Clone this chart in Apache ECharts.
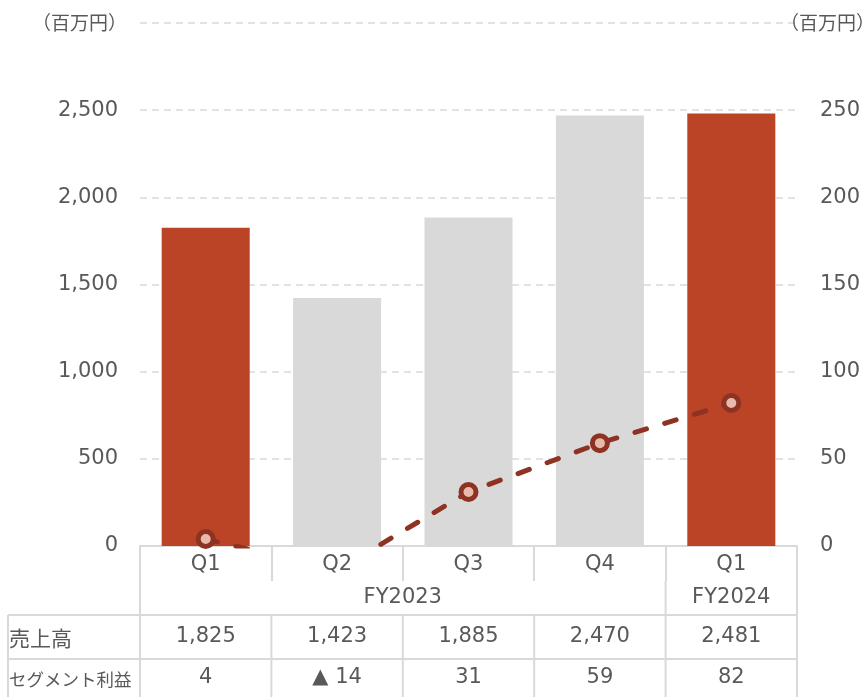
<!DOCTYPE html>
<html>
<head>
<meta charset="utf-8">
<script src="https://cdn.jsdelivr.net/npm/echarts@6/dist/echarts.min.js"></script>
<style>
html,body{margin:0;padding:0;background:#fff;}
#main{width:865px;height:697px;}
</style>
</head>
<body>
<div id="main"></div>
<script>
// ---- data ----
const quarters = ['Q1', 'Q2', 'Q3', 'Q4', 'Q1'];
const years = ['FY2023', 'FY2023', 'FY2023', 'FY2023', 'FY2024'];
const sales = [1825, 1423, 1885, 2470, 2481];          // 売上高 (left axis)
const profit = [4, -14, 31, 59, 82];                   // セグメント利益 (right axis)
const rowLabels = ['売上高', 'セグメント利益'];
const unitLabel = '（百万円）';
const leftAxis = { min: 0, max: 3000, interval: 500 };
const rightAxis = { min: 0, max: 300, interval: 50 };

// ---- styles ----
const RED = '#BB4426';
const GRAY = '#D9D9D9';
const LINE = '#8E3323';
const MARK = '#E8BAAB';
const TXT = '#595959';
const NUM_FONT = '"DejaVu Sans", Verdana, sans-serif';
const NUM_SIZE = 21;
const JP_FONT = '"Noto Sans CJK JP", sans-serif';
const BORDER = '#D9D9D9';

const axisData = quarters.map((q, i) => years[i] + ' ' + q);
const fmt = v => Number(v).toLocaleString('en-US');
const fmtProfit = v => v < 0 ? '▲ ' + fmt(Math.abs(v)) : fmt(v);

const chart = echarts.init(document.getElementById('main'), null, { renderer: 'canvas' });

const GRID = { left: 140, right: 68, top: 23, bottom: 151 };

chart.setOption({
  animation: false,
  grid: GRID,
  xAxis: {
    type: 'category',
    data: axisData,
    axisLine: { lineStyle: { color: BORDER, width: 2 } },
    axisTick: { show: true, length: 35, lineStyle: { color: BORDER, width: 2 } },
    axisLabel: {
      formatter: v => v.split(' ')[1],
      color: TXT, fontSize: NUM_SIZE, fontFamily: NUM_FONT, margin: 8
    },
    splitLine: { show: false }
  },
  yAxis: [
    {
      type: 'value', min: leftAxis.min, max: leftAxis.max, interval: leftAxis.interval,
      axisLine: { show: false }, axisTick: { show: false },
      axisLabel: {
        formatter: v => v >= leftAxis.max ? '' : fmt(v),
        color: TXT, fontSize: NUM_SIZE, fontFamily: NUM_FONT, margin: 22
      },
      splitLine: { lineStyle: { color: GRAY, type: [7, 5], width: 1.5 } }
    },
    {
      type: 'value', min: rightAxis.min, max: rightAxis.max, interval: rightAxis.interval,
      axisLine: { show: false }, axisTick: { show: false },
      axisLabel: {
        formatter: v => v >= rightAxis.max ? '' : fmt(v),
        color: TXT, fontSize: NUM_SIZE, fontFamily: NUM_FONT, margin: 23
      },
      splitLine: { show: false }
    }
  ],
  series: [
    {
      type: 'bar',
      data: sales,
      barWidth: '67%',
      itemStyle: { color: p => quarters[p.dataIndex] === 'Q1' ? RED : GRAY },
      z: 2
    },
    {
      type: 'line',
      yAxisIndex: 1,
      data: profit,
      clip: true,
      symbol: 'circle',
      symbolSize: 15,
      lineStyle: { color: LINE, width: 5, type: [12, 19], cap: 'round' },
      itemStyle: { color: MARK, borderColor: LINE, borderWidth: 5 },
      z: 5
    }
  ]
});

function buildTable() {
  const c0 = chart.convertToPixel({ xAxisIndex: 0 }, axisData[0]);
  const c1 = chart.convertToPixel({ xAxisIndex: 0 }, axisData[1]);
  const bw = c1 - c0;
  const n = axisData.length;
  const bounds = [];
  for (let i = 0; i <= n; i++) bounds.push(c0 - bw / 2 + i * bw);
  const centers = axisData.map((_, i) => c0 + i * bw);
  const y0 = chart.convertToPixel({ yAxisIndex: 0 }, 0);
  const yTop = chart.convertToPixel({ yAxisIndex: 0 }, leftAxis.max);
  const H = chart.getHeight();
  const qBottom = y0 + 35, fyBottom = y0 + 69, salesBottom = y0 + 113;
  const labelLeft = 8;
  const els = [];
  const line = (x1, y1, x2, y2) => els.push({
    type: 'line', silent: true, z: 10,
    shape: { x1, y1, x2, y2 },
    style: { stroke: BORDER, lineWidth: 2 }
  });
  const text = (t, x, y, opts) => els.push({
    type: 'text', silent: true, z: 10, x, y,
    style: Object.assign({ text: t, fill: TXT, fontSize: NUM_SIZE, fontFamily: NUM_FONT,
      align: 'center', verticalAlign: 'middle' }, opts || {})
  });

  // outer verticals
  line(bounds[0], y0, bounds[0], H);
  line(bounds[n], y0, bounds[n], H);
  // FY groups
  let start = 0;
  for (let i = 1; i <= n; i++) {
    if (i === n || years[i] !== years[start]) {
      const xa = bounds[start], xb = bounds[i];
      if (i < n) line(xb, qBottom, xb, fyBottom);
      text(years[start], (xa + xb) / 2, (qBottom + fyBottom) / 2);
      start = i;
    }
  }
  // horizontal lines
  line(labelLeft, fyBottom, bounds[n], fyBottom);
  line(labelLeft, salesBottom, bounds[n], salesBottom);
  // data rows verticals
  line(labelLeft, fyBottom, labelLeft, H);
  for (let i = 1; i < n; i++) line(bounds[i], fyBottom, bounds[i], H);
  // row labels
  text(rowLabels[0], labelLeft + 1, (fyBottom + salesBottom) / 2 + 1, { align: 'left', fontFamily: JP_FONT, fontSize: 21 });
  text(rowLabels[1], labelLeft + 1, (salesBottom + H) / 2 + 1, { align: 'left', fontFamily: JP_FONT, fontSize: 17.5 });
  // values
  centers.forEach((cx, i) => {
    text(fmt(sales[i]), cx, (fyBottom + salesBottom) / 2);
    text(fmtProfit(profit[i]), cx, (salesBottom + H) / 2);
  });
  // unit labels
  text(unitLabel, bounds[0] - 13, yTop, { align: 'right', fontFamily: JP_FONT, fontSize: 19 });
  text(unitLabel, bounds[n] - 17, yTop, { align: 'left', fontFamily: JP_FONT, fontSize: 19 });

  chart.setOption({ graphic: els });
}
buildTable();
</script>
</body>
</html>
